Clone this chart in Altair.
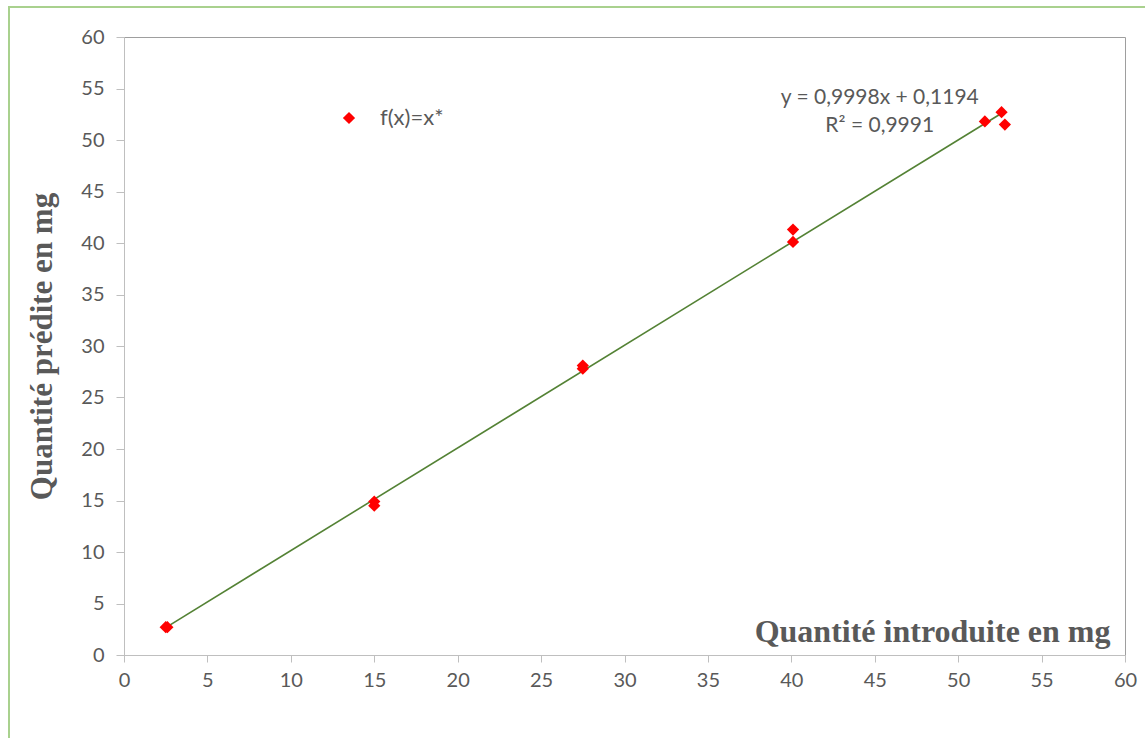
import altair as alt
import pandas as pd

# Data
x_intro = [2.5, 2.6, 15.0, 15.0, 27.5, 27.5, 40.1, 40.1, 51.6, 52.6, 52.8]
y_pred = [2.7, 2.7, 14.9, 14.5, 28.1, 27.8, 41.3, 40.1, 51.8, 52.7, 51.5]
series_name = "f(x)=x*"

eq_text = ["y = 0,9998x + 0,1194", "R² = 0,9991"]
eq_x = [45.3, 45.3]
eq_y = [54.1, 51.4]

tick_vals = list(range(0, 61, 5))

df = pd.DataFrame({"x": x_intro, "y": y_pred, "series": [series_name] * len(x_intro)})
eq_df = pd.DataFrame({"t": eq_text, "x": eq_x, "y": eq_y})

GRAY = "#595959"
FONT = "Lato"
SERIF = "Liberation Serif"

xscale = alt.Scale(domain=[0, 60], nice=False)
yscale = alt.Scale(domain=[0, 60], nice=False)

x_axis = alt.Axis(
    values=tick_vals, grid=False, domainColor="#BFBFBF", tickColor="#BFBFBF",
    tickSize=7, labelFont=FONT, labelFontSize=20, labelColor=GRAY, labelPadding=8,
    labelFlush=False,
    title="Quantité introduite en mg", titleFont=SERIF, titleFontSize=32,
    titleFontWeight="bold", titleColor=GRAY, titleAnchor="end", titleAlign="right",
    titleX=986, titleY=-14, titleBaseline="alphabetic",
)
y_axis = alt.Axis(
    values=tick_vals, grid=False, domainColor="#BFBFBF", tickColor="#BFBFBF",
    tickSize=8, labelFont=FONT, labelFontSize=20, labelColor=GRAY, labelPadding=12,
    labelFlush=False,
    title="Quantité prédite en mg", titleFont=SERIF, titleFontSize=31,
    titleFontWeight="bold", titleColor=GRAY, titlePadding=22,
)

base = alt.Chart(df)

points = base.mark_point(shape="diamond", filled=True, size=150, opacity=1).encode(
    x=alt.X("x:Q", scale=xscale, axis=x_axis),
    y=alt.Y("y:Q", scale=yscale, axis=y_axis),
    color=alt.Color(
        "series:N",
        scale=alt.Scale(range=["#FF0000"]),
        legend=alt.Legend(
            title=None, orient="none", legendX=214, legendY=70, padding=0,
            symbolType="diamond", symbolSize=150, symbolStrokeWidth=0,
            labelFont=FONT, labelFontSize=22, labelColor=GRAY, labelOffset=20,
        ),
    ),
)

trend = base.transform_regression("x", "y").mark_line(color="#548235", strokeWidth=1.6).encode(
    x=alt.X("x:Q", scale=xscale),
    y=alt.Y("y:Q", scale=yscale),
)

eq = alt.Chart(eq_df).mark_text(
    font=FONT, fontSize=21, color=GRAY, align="center", baseline="middle"
).encode(
    x=alt.X("x:Q", scale=xscale),
    y=alt.Y("y:Q", scale=yscale),
    text="t:N",
)

frame = alt.Chart(alt.Data(values=[{}])).mark_rect(
    fill="transparent", stroke="#A9D18E", strokeWidth=2
).encode(
    x=alt.value(-115), x2=alt.value(1040), y=alt.value(-30), y2=alt.value(720)
)

chart = alt.layer(frame, trend, points, eq).properties(
    width=1001, height=618,
    autosize=alt.AutoSizeParams(type="none"),
    padding={"left": 124, "top": 37, "right": 20, "bottom": 83},
    background="white",
).configure_view(stroke="#9E9E9E", strokeWidth=1)

chart.save("out.html", embed_options={"renderer": "svg", "actions": False})
